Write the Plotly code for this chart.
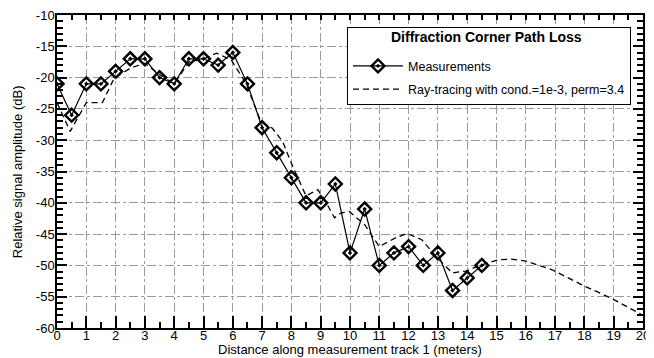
import plotly.graph_objects as go

meas_x = [0, 0.5, 1, 1.5, 2, 2.5, 3, 3.5, 4, 4.5, 5, 5.5, 6, 6.5, 7, 7.5, 8, 8.5, 9, 9.5,
          10, 10.5, 11, 11.5, 12, 12.5, 13, 13.5, 14, 14.5]
meas_y = [-21, -26, -21, -21, -19, -17, -17, -20, -21, -17, -17, -18, -16, -21, -28, -32, -36, -40, -40, -37,
          -48, -41, -50, -48, -47, -50, -48, -54, -52, -50]

ray_x = [0, 0.45, 0.7, 1.0, 1.55, 1.95, 2.5, 3.0, 3.5, 4.0, 4.5, 5.0, 5.45, 5.95, 6.45, 6.95, 7.35, 7.7,
         8.0, 8.3, 8.5, 8.9, 9.13, 9.47, 9.7, 9.98, 10.5, 11.0, 11.55, 11.95, 12.45, 12.98, 13.49, 13.95,
         14.5, 15.05, 15.5, 16.0, 16.9, 18.0, 18.9, 19.85, 20.0]
ray_y = [-24, -28.6, -26.5, -24, -24, -20.1, -18.5, -17.7, -19.5, -21, -17.5, -17, -16.1, -17.2, -20.9, -27,
         -28.1, -30.2, -33.7, -36.8, -38.9, -37.9, -39.5, -42.4, -41.6, -41.4, -43.5, -47, -45.6, -44.9,
         -45.9, -48.8, -51.2, -50.9, -49.9, -49.1, -49.0, -49.3, -50.7, -53.3, -55.2, -57.6, -58]

x_ticks = list(range(0, 21))
y_ticks = list(range(-60, -9, 5))

x_title = "Distance along measurement track 1 (meters)"
y_title = "Relative signal amplitude (dB)"
legend_title = "Diffraction Corner Path Loss"

FONT = "Liberation Sans, Arial, sans-serif"

fig = go.Figure()
fig.add_trace(go.Scatter(
    x=meas_x, y=meas_y, mode="lines+markers", name="Measurements", legendgroup="a",
    line=dict(color="black", width=1.2),
    marker=dict(symbol="diamond-open-dot", size=10, color="black", line=dict(color="black", width=2.4)),
))
fig.add_trace(go.Scatter(
    x=ray_x, y=ray_y, mode="lines", name="Ray-tracing with cond.=1e-3, perm=3.4", legendgroup="b",
    line=dict(color="black", width=1.3, dash="6px,4px"),
))

axis_common = dict(
    showline=True, linecolor="black", linewidth=1.5,
    ticks="inside", tickcolor="black", tickwidth=1.5,
    showgrid=True, gridcolor="#9a9a9a", gridwidth=1, griddash="dashdot",
    zeroline=False, tickfont=dict(family=FONT, size=13, color="black"),
    automargin=False, layer="above traces", ticklabeloverflow="allow",
)

fig.update_xaxes(
    range=[0, 20], tickvals=x_ticks, ticktext=[str(v) for v in x_ticks], ticklen=12,
    mirror=True, ticklabelstandoff=-5,
    minor=dict(ticks="inside", dtick=0.5, ticklen=6, tickcolor="black", tickwidth=1.5, showgrid=False),
    **axis_common,
)
fig.update_yaxes(
    range=[-60, -10], tickvals=y_ticks, ticktext=[str(v) for v in y_ticks], ticklen=10,
    mirror="ticks", ticklabelstandoff=-2,
    minor=dict(ticks="inside", dtick=1, ticklen=6, tickcolor="black", tickwidth=1.5, showgrid=False),
    **axis_common,
)

# top axis: short uniform ticks every 0.5 m
fig.update_layout(xaxis2=dict(
    overlaying="x", side="top", range=[0, 20], tickvals=[v / 2 for v in range(0, 41)],
    ticks="inside", ticklen=5, tickwidth=1.5, tickcolor="black", showticklabels=False,
    showgrid=False, zeroline=False, showline=False, automargin=False,
))
fig.add_trace(go.Scatter(x=[0, 20], y=[-60, -60], xaxis="x2", mode="lines",
                         line=dict(width=0), showlegend=False, hoverinfo="skip"))

fig.add_annotation(text=x_title, xref="paper", yref="paper", x=0.5, y=-0.068,
                   xanchor="center", yanchor="middle", showarrow=False,
                   font=dict(family=FONT, size=13, color="black"))
fig.add_annotation(text=y_title, xref="paper", yref="paper", x=-0.067, y=0.5, textangle=-90,
                   xanchor="center", yanchor="middle", showarrow=False,
                   font=dict(family=FONT, size=13, color="black"))
# legend heading (drawn over the legend box's blank title row)
fig.add_annotation(text="<b>" + legend_title + "</b>", xref="paper", yref="paper", x=0.733, y=0.9297,
                   xanchor="center", yanchor="middle", showarrow=False,
                   font=dict(family=FONT, size=14, color="black"))

fig.update_layout(
    width=646, height=350,
    margin=dict(l=49, r=11, t=7, b=30),
    paper_bgcolor="white", plot_bgcolor="white",
    font=dict(family=FONT, size=12, color="black"),
    showlegend=True,
    legend=dict(
        x=0.4949, y=0.962, xanchor="left", yanchor="top",
        bgcolor="white", bordercolor="black", borderwidth=1,
        font=dict(family=FONT, size=12.5, color="black"),
        title=dict(text=" ", side="top", font=dict(family=FONT, size=18)),
        itemwidth=50, tracegroupgap=4,
    ),
)

fig.write_html("out.html")
